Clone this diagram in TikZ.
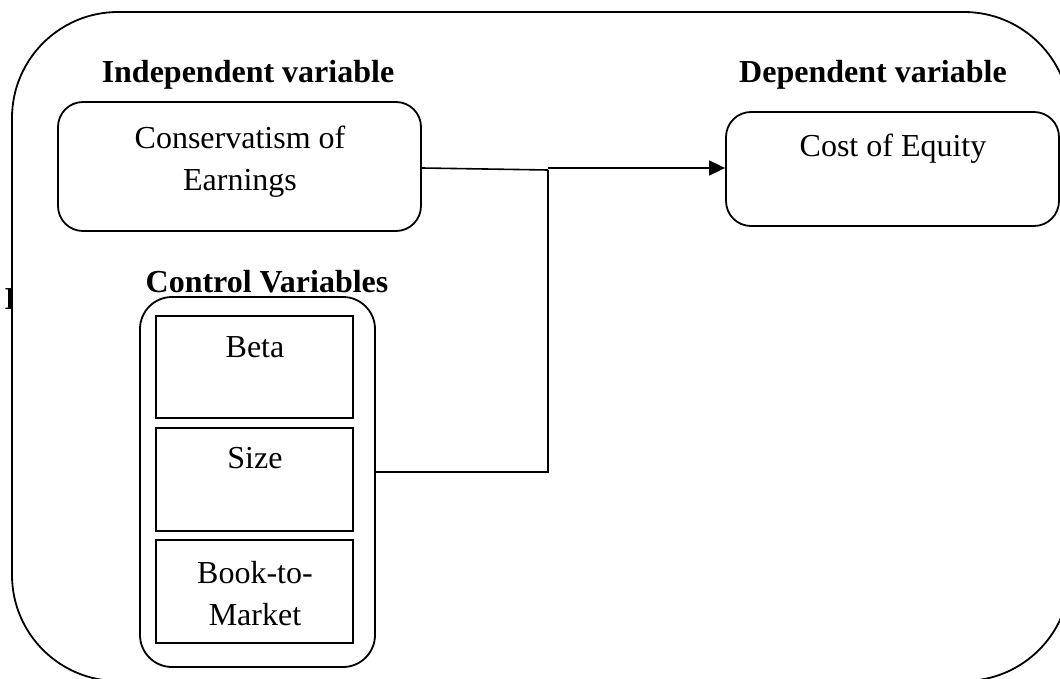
\documentclass[tikz,border=0pt]{standalone}
\usepackage{fontspec}
\setmainfont{Liberation Serif}
\usetikzlibrary{arrows.meta}
\begin{document}
\begin{tikzpicture}[x=1pt,y=-1pt,
  line width=1.8pt,
  every node/.style={font=\fontsize{32}{42}\selectfont},
  rbox/.style={draw, rounded corners=#1, inner sep=0pt},
  sbox/.style={draw, inner sep=0pt, minimum width=197pt},
  heading/.style={font=\fontsize{32}{42}\selectfont\bfseries, anchor=base, inner sep=0pt},
  label text/.style={anchor=base, inner sep=0pt, align=center},
  conn/.style={line width=1.6pt},
  arr/.style={conn, -{Triangle[length=16pt,width=15pt]}}]
\useasboundingbox (0,0) rectangle (1060,679);
% partly hidden letter at left edge
\begin{scope}
\clip (0,280) rectangle (11.5,316);
\node[heading] (frag) at (10.5,309) {I};
\end{scope}
% outer frame
\node[rbox=106, minimum width=1058pt, minimum height=669pt] (outer) at (541,346.5) {};
% headings
\node[heading] (hind) at (248,83) {Independent variable};
\node[heading] (hdep) at (873,83) {Dependent variable};
\node[heading] (hctl) at (267,292) {Control Variables};
% boxes
\node[rbox=25, minimum width=363pt, minimum height=129pt] (cons) at (239.5,166.5) {};
\node[rbox=25, minimum width=333pt, minimum height=114pt] (coe) at (892.5,169) {};
\node[rbox=32, minimum width=235pt, minimum height=370pt] (ctrl) at (257.5,482) {};
\node[sbox, minimum height=102pt] (beta) at (254.5,367) {};
\node[sbox, minimum height=103pt] (size) at (254.5,479.5) {};
\node[sbox, minimum height=103pt] (btm) at (254.5,591.5) {};
% texts
\node[label text, anchor=north] (tcons) at (240,125) {Conservatism of\\Earnings};
\node[label text] (tcoe) at (893,157) {Cost of Equity};
\node[label text] (tbeta) at (255,357) {Beta};
\node[label text] (tsize) at (255,468) {Size};
\node[label text, anchor=north] (tbtm) at (255,560) {Book-to-\\Market};
% connectors
\coordinate (j1) at (548,170);
\coordinate (j2) at (548,168);
\coordinate (j3) at (548,472);
\draw[conn] (cons.east |- 0,168) -- (j1);
\draw[arr] (j2) -- (coe.west |- j2);
\draw[conn] (j1) -- (j3) -- (ctrl.east |- j3);
\end{tikzpicture}
\end{document}
